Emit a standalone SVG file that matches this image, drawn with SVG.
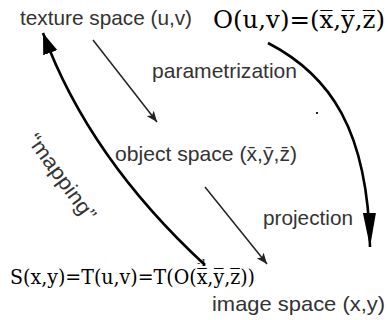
<svg xmlns="http://www.w3.org/2000/svg" width="388" height="320" viewBox="0 0 388 320">
<defs>
<marker id="thin" viewBox="0 0 10 10" refX="10" refY="5" markerWidth="11" markerHeight="9" markerUnits="userSpaceOnUse" orient="auto" preserveAspectRatio="none"><path d="M0,0 L10,5 L0,10 L2.5,5 Z" fill="#222"/></marker>
<marker id="bigL" viewBox="0 0 10 10" refX="10" refY="5" markerWidth="21" markerHeight="15" markerUnits="userSpaceOnUse" orient="auto" preserveAspectRatio="none"><path d="M0,0 L10,5 L0,10 Z" fill="#000"/></marker>
<marker id="bigR" viewBox="0 0 10 10" refX="10" refY="5" markerWidth="34" markerHeight="13" markerUnits="userSpaceOnUse" orient="auto" preserveAspectRatio="none"><path d="M0,0 L10,5 L0,10 Z" fill="#000"/></marker>
</defs>
<style>
.s{font-family:"Liberation Sans","DejaVu Sans",sans-serif;font-size:21px;fill:#333}
.m{font-family:"DejaVu Serif","Liberation Serif",serif;fill:#000}
.thin{stroke:#222;stroke-width:1.5;fill:none}
.thick{stroke:#000;stroke-width:2.6;fill:none}
</style>
<rect width="388" height="320" fill="#fff"/>
<g id="texture"><text class="s" x="20" y="25" textLength="172" lengthAdjust="spacingAndGlyphs">texture space (u,v)</text></g>
<g id="ouv"><text class="m" x="213" y="28" font-size="25" textLength="172" lengthAdjust="spacingAndGlyphs">O(u,v)=(x̅,y̅,z̅)</text></g>
<g id="param"><text class="s" x="152" y="78" textLength="145" lengthAdjust="spacingAndGlyphs">parametrization</text></g>
<g id="object"><text class="s" x="115" y="161" textLength="182" lengthAdjust="spacingAndGlyphs">object space (x̄,ȳ,z̄)</text></g>
<g id="projection"><text class="s" x="263" y="225" textLength="90" lengthAdjust="spacingAndGlyphs">projection</text></g>
<g id="mapping"><text class="s" transform="translate(26,140) rotate(54)" textLength="102" lengthAdjust="spacingAndGlyphs">“mapping”</text></g>
<g id="formula"><text class="m" x="10" y="284" font-size="21" textLength="245" lengthAdjust="spacingAndGlyphs">S(x,y)=T(u,v)=T(O(x̅,y̅,z̅))</text><text class="m" x="197" y="266" font-size="10">-1</text></g>
<g id="image"><text class="s" x="212" y="311" textLength="173" lengthAdjust="spacingAndGlyphs">image space (x,y)</text></g>
<rect x="316" y="112" width="2" height="2" fill="#222"/>
<g id="connectors">
<line class="thin" x1="93" y1="40" x2="157" y2="122" marker-end="url(#thin)"/>
<line class="thin" x1="205" y1="187" x2="267" y2="264" marker-end="url(#thin)"/>
<path class="thick" d="M268,43 C330,75 368,130 370,247" marker-end="url(#bigR)"/>
<path class="thick" d="M205,265 Q89,158 43,33" marker-end="url(#bigL)"/>
</g>
</svg>
